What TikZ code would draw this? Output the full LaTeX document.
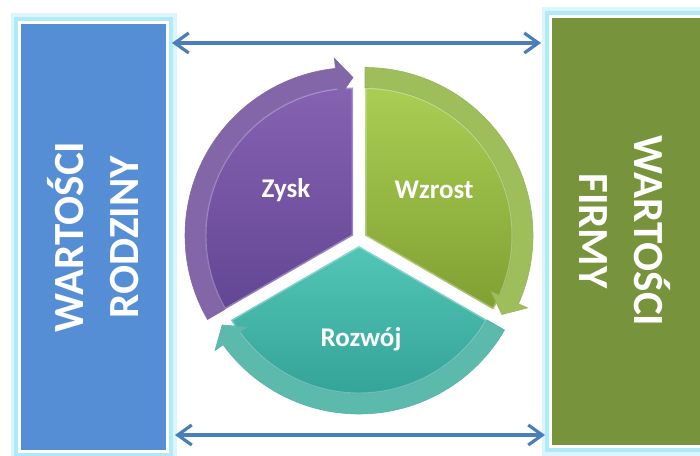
\documentclass[tikz,border=0pt]{standalone}
\usepackage{xcolor}
\usepackage{fontspec}
\setmainfont{Carlito}
\usepackage{tikz}
\usetikzlibrary{arrows.meta}

\definecolor{famblue}{RGB}{85,142,213}
\definecolor{firmgreen}{RGB}{119,147,60}
\definecolor{glowcyan}{RGB}{150,226,246}
\definecolor{linkblue}{RGB}{74,126,187}
\definecolor{zyskdark}{RGB}{98,70,148}
\definecolor{zysklight}{RGB}{134,98,178}
\definecolor{zyskring}{RGB}{130,102,168}
\definecolor{wzrostdark}{RGB}{128,160,50}
\definecolor{wzrostlight}{RGB}{170,206,84}
\definecolor{wzrostring}{RGB}{158,190,92}
\definecolor{rozwojdark}{RGB}{48,158,148}
\definecolor{rozwojlight}{RGB}{82,198,182}
\definecolor{rozwojring}{RGB}{92,186,172}

\begin{document}
\begin{tikzpicture}[x=1pt, y=1pt]
                \tikzstyle{valuebox} = [rectangle, draw=white, line width=3pt, inner sep=0pt, preaction={draw=glowcyan!35, line width=18pt}, preaction={draw=glowcyan!75, line width=11pt}]
                \tikzstyle{valuetext} = [text=white, align=center, font=\fontsize{43}{55}\selectfont\bfseries]
                \tikzstyle{segtext} = [text=white, font=\fontsize{27}{30}\selectfont\bfseries]
                \tikzstyle{bevel} = [draw=white, draw opacity=0.3, line width=3pt, line join=round]
                \tikzstyle{arrow} = [draw=linkblue, line width=3.2pt, {Straight Barb[length=14pt,width=20pt]}-{Straight Barb[length=14pt,width=20pt]}]

                \useasboundingbox (0,0) rectangle (700,455);
                \clip (0,0) rectangle (700,455);

                % side boxes
                \node (famBox) [valuebox, fill=famblue, minimum width=148pt, minimum height=429pt] at (93.5,218) {};
                \node (firmBox) [valuebox, fill=firmgreen, minimum width=210pt, minimum height=430pt] at (655.5,223.5) {};
                \node (famText) [valuetext, rotate=90] at (93,218) {WARTOŚCI\\RODZINY};
                \node (firmText) [valuetext, rotate=-90] at (625,224) {WARTOŚCI\\FIRMY};

                \coordinate (topLink) at (0,412);
                \coordinate (bottomLink) at (0,20);
                \draw [arrow, shorten <=3pt, shorten >=8pt] (famBox.east |- topLink) -- (firmBox.west |- topLink);
                \draw [arrow, shorten <=6pt, shorten >=4pt] (famBox.east |- bottomLink) -- (firmBox.west |- bottomLink);

                % Zysk segment
                \begin{scope}[shift={(353,219.5)}]
                \shade [top color=zysklight, bottom color=zyskdark] (0,0) -- (210:148) arc[start angle=210, end angle=90, radius=148] -- cycle;
                \path [bevel] (0,0) -- (210:148) arc[start angle=210, end angle=90, radius=148] -- cycle;
                \filldraw [fill=zyskring, draw=zyskdark!80, line width=0.6pt] (210:148) -- (210:168) arc[start angle=210, end angle=96, radius=168] -- (96:178) -- (90:158) -- (96:138) -- (96:148) arc[start angle=96, end angle=210, radius=148] -- cycle;
                \end{scope}

                % Wzrost segment
                \begin{scope}[shift={(365,219.5)}]
                \shade [top color=wzrostlight, bottom color=wzrostdark] (0,0) -- (90:148) arc[start angle=90, end angle=-30, radius=148] -- cycle;
                \path [bevel] (0,0) -- (90:148) arc[start angle=90, end angle=-30, radius=148] -- cycle;
                \filldraw [fill=wzrostring, draw=wzrostdark!80, line width=0.6pt] (90:148) -- (90:168) arc[start angle=90, end angle=-24, radius=168] -- (-24:178) -- (-30:158) -- (-24:138) -- (-24:148) arc[start angle=-24, end angle=90, radius=148] -- cycle;
                \end{scope}

                % Rozwoj segment
                \begin{scope}[shift={(359,209)}]
                \shade [top color=rozwojlight, bottom color=rozwojdark] (0,0) -- (-30:148) arc[start angle=-30, end angle=-150, radius=148] -- cycle;
                \path [bevel] (0,0) -- (-30:148) arc[start angle=-30, end angle=-150, radius=148] -- cycle;
                \filldraw [fill=rozwojring, draw=rozwojdark!80, line width=0.6pt] (-30:148) -- (-30:168) arc[start angle=-30, end angle=-144, radius=168] -- (-144:178) -- (-150:158) -- (-144:138) -- (-144:148) arc[start angle=-144, end angle=-30, radius=148] -- cycle;
                \end{scope}

                \node (zysk) [segtext] at (286,265) {Zysk};
                \node (wzrost) [segtext] at (434,265) {Wzrost};
                \node (rozwoj) [segtext] at (361,116) {Rozwój};
            \end{tikzpicture}
\end{document}
